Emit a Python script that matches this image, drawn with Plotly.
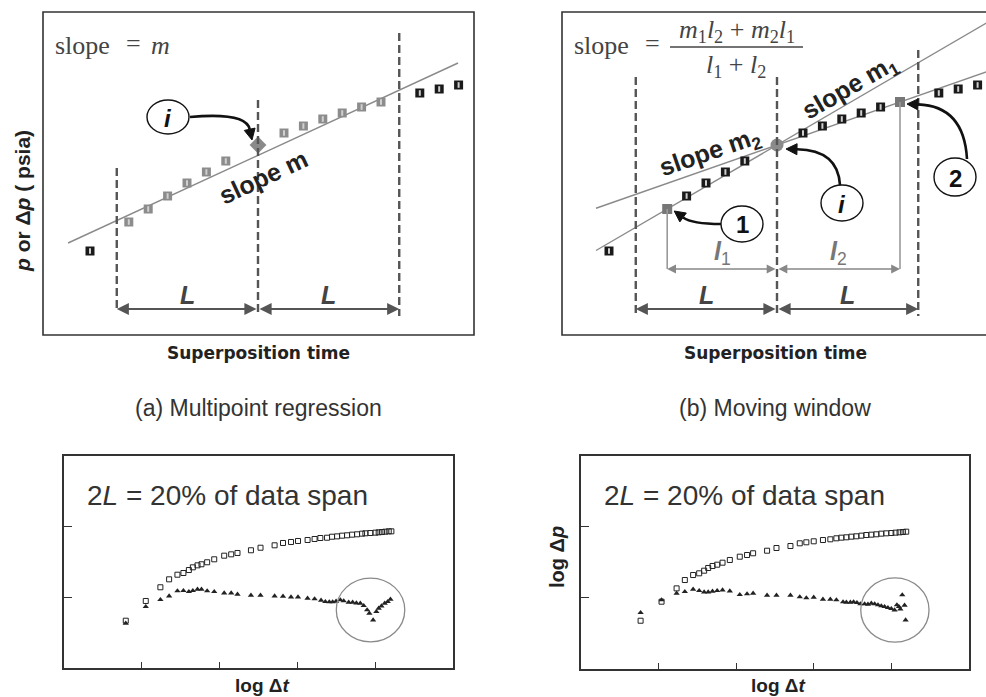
import numpy as np
import plotly.graph_objects as go

# ---------------- panels (a) and (b): superposition-time plots ----------------
sup_time = [0, 2, 3, 4, 5, 6, 7, 10, 11, 12, 13, 14, 15, 17, 18, 19]
sup_pressure = [8.4, 11.3, 12.6, 13.9, 15.2, 16.3, 17.4, 20.2, 20.9, 21.6, 22.2, 22.8, 23.3, 24.2, 24.6, 25.0]
point_i = [8.66, 19.0]          # evaluation point i
half_window = 7.28               # L
fit_time = [-1.13, 18.97]        # regression line over the 2L window
fit_pressure = [9.2, 27.2]
moving_time = [0, 4, 5, 6, 7, 10, 11, 12, 13, 14, 17, 18, 19]
point_1 = [3, 12.6]
point_2 = [15, 23.3]

# ---------------- panels (c) and (d): log-log diagnostics (log10 units) ----------------
c_sq_x = [0.794, 1.051, 1.239, 1.351, 1.458, 1.535, 1.605, 1.656, 1.716, 1.767, 1.840, 1.931, 2.059, 2.149,
          2.230, 2.403, 2.526, 2.707, 2.815, 2.918, 3.008, 3.131, 3.221, 3.295, 3.381, 3.445, 3.510, 3.574,
          3.638, 3.703, 3.767, 3.831, 3.874, 3.938, 4.003, 4.045, 4.088, 4.131, 4.174, 4.208]
c_sq_y = [0.666, 0.944, 1.137, 1.249, 1.314, 1.338, 1.380, 1.418, 1.446, 1.461, 1.489, 1.531, 1.582, 1.601,
          1.620, 1.658, 1.694, 1.728, 1.761, 1.775, 1.789, 1.803, 1.817, 1.831, 1.835, 1.849, 1.854, 1.864,
          1.869, 1.878, 1.883, 1.892, 1.897, 1.901, 1.906, 1.911, 1.915, 1.920, 1.925, 1.925]
c_tri_x = [0.794, 1.051, 1.239, 1.351, 1.458, 1.535, 1.605, 1.656, 1.716, 1.767, 1.840, 1.931, 2.059, 2.149,
           2.230, 2.403, 2.526, 2.707, 2.815, 2.918, 3.008, 3.131, 3.221, 3.304, 3.359, 3.410, 3.453, 3.497,
           3.552, 3.595, 3.659, 3.710, 3.758, 3.809, 3.852, 3.896, 3.925, 3.973, 4.015, 4.045, 4.080, 4.122,
           4.161, 4.196]
c_tri_y = [0.630, 0.863, 0.962, 1.014, 1.085, 1.089, 1.075, 1.089, 1.108, 1.108, 1.085, 1.075, 1.056, 1.056,
           1.038, 1.024, 1.024, 1.014, 1.010, 1.000, 1.000, 0.982, 0.972, 0.954, 0.934, 0.930, 0.930, 0.939,
           0.958, 0.944, 0.925, 0.925, 0.915, 0.911, 0.877, 0.817, 0.770, 0.676, 0.793, 0.841, 0.873, 0.911,
           0.934, 0.968]
d_sq_x = [0.768, 1.038, 1.232, 1.338, 1.445, 1.523, 1.587, 1.639, 1.695, 1.755, 1.824, 1.918, 2.046, 2.140,
          2.218, 2.398, 2.519, 2.699, 2.819, 2.904, 2.999, 3.118, 3.213, 3.291, 3.355, 3.420, 3.484, 3.548,
          3.613, 3.677, 3.741, 3.806, 3.870, 3.934, 3.999, 4.054, 4.105, 4.148, 4.191]
d_sq_y = [0.677, 0.944, 1.131, 1.248, 1.318, 1.342, 1.379, 1.417, 1.445, 1.463, 1.491, 1.529, 1.575, 1.599,
          1.623, 1.659, 1.697, 1.725, 1.763, 1.777, 1.791, 1.809, 1.819, 1.833, 1.842, 1.847, 1.856, 1.861,
          1.870, 1.879, 1.884, 1.889, 1.898, 1.903, 1.907, 1.912, 1.917, 1.921, 1.926]
d_tri_x = [0.768, 1.038, 1.232, 1.338, 1.445, 1.523, 1.587, 1.639, 1.695, 1.755, 1.824, 1.918, 2.046, 2.140,
           2.218, 2.398, 2.519, 2.699, 2.819, 2.904, 2.999, 3.118, 3.213, 3.291, 3.377, 3.420, 3.471, 3.513,
           3.556, 3.600, 3.655, 3.698, 3.741, 3.784, 3.827, 3.870, 3.912, 3.955, 3.999, 4.041, 4.071, 4.097,
           4.115, 4.140, 4.170, 4.183]
d_tri_y = [0.790, 0.968, 1.061, 1.085, 1.117, 1.099, 1.080, 1.080, 1.089, 1.099, 1.108, 1.094, 1.042, 1.052,
           1.061, 1.033, 1.033, 1.033, 1.010, 0.996, 1.005, 0.978, 0.978, 0.968, 0.940, 0.935, 0.935, 0.940,
           0.930, 0.912, 0.912, 0.907, 0.921, 0.912, 0.898, 0.884, 0.874, 0.860, 0.846, 0.827, 0.898, 0.874,
           0.841, 1.038, 0.893, 0.687]
c_ring = [3.94, 0.817]           # circled late-time region
d_ring = [4.045, 0.827]
log_ticks_x = [1, 2, 3, 4]
log_ticks_y = [1, 2]

# ---------------- page geometry (pixels) ----------------
W, H = 986, 697
TOP, BOTTOM = 12, 335
PX_T, PX_P = 19.4, 10.0
A_LEFT, A_RIGHT, A_ORIGIN = 43, 474, 90
B_LEFT, B_RIGHT, B_ORIGIN = 562, 986, 609
C_BOX = (64, 456, 453, 668)
D_BOX = (581, 456, 969, 669)

FONT = "Liberation Sans"
SERIF = "Liberation Serif"


def paper(x, y):
    return x / W, 1 - y / H


def pix_a(t, p):
    return A_ORIGIN + PX_T * t, BOTTOM - PX_P * p


def pix_b(t, p):
    return B_ORIGIN + PX_T * t, BOTTOM - PX_P * p


def p_at(y):
    return (BOTTOM - y) / PX_P


pressure_of = dict(zip(sup_time, sup_pressure))
shapes, notes = [], []


def text(x, y, s, size, color="#333", bold=False, italic=False, angle=0, family=FONT, xanchor="center"):
    if italic:
        s = f"<i>{s}</i>"
    if bold:
        s = f"<b>{s}</b>"
    X, Y = paper(x, y)
    notes.append(dict(x=X, y=Y, xref="paper", yref="paper", text=s, showarrow=False, textangle=angle,
                      xanchor=xanchor, yanchor="middle", font=dict(family=family, size=size, color=color)))


def ellipse(cx, cy, rx, ry, color="#111", width=1.4):
    x0, y0 = paper(cx - rx, cy - ry)
    x1, y1 = paper(cx + rx, cy + ry)
    shapes.append(dict(type="circle", xref="paper", yref="paper", x0=x0, x1=x1, y0=y1, y1=y0,
                       line=dict(color=color, width=width), fillcolor="white", layer="above"))


def curved_arrow(start, ctrl, tip, color="#111", width=2.6, head=11, half=5.5):
    d = np.array(tip, float) - np.array(ctrl, float)
    d /= np.linalg.norm(d)
    base = np.array(tip, float) - d * head
    perp = np.array([-d[1], d[0]])
    b1, b2 = base + perp * half, base - perp * half
    s = paper(*start); c = paper(*ctrl); e = paper(*base)
    shapes.append(dict(type="path", xref="paper", yref="paper",
                       path=f"M {s[0]},{s[1]} Q {c[0]},{c[1]} {e[0]},{e[1]}",
                       line=dict(color=color, width=width), layer="above"))
    t_ = paper(*tip); p1 = paper(*b1); p2 = paper(*b2)
    shapes.append(dict(type="path", xref="paper", yref="paper",
                       path=f"M {t_[0]},{t_[1]} L {p1[0]},{p1[1]} L {p2[0]},{p2[1]} Z",
                       fillcolor=color, line=dict(color=color, width=1), layer="above"))


def span_arrow(xref, yref, t0, t1, p, color, width):
    notes.append(dict(x=t1, y=p, ax=t0, ay=p, xref=xref, yref=yref, axref=xref, ayref=yref, text="",
                      showarrow=True, arrowhead=2, arrowside="end+start", arrowsize=1.1,
                      arrowwidth=width, arrowcolor=color, standoff=0, startstandoff=0,
                      font=dict(size=10)))


def vdash(xref, yref, t, p0, p1):
    shapes.append(dict(type="line", xref=xref, yref=yref, x0=t, x1=t, y0=p0, y1=p1,
                       line=dict(color="#555", width=2.4, dash="8px,4px")))


fig = go.Figure()


def squares(xs, ys, xa, ya, outer, inner):
    fig.add_trace(go.Scatter(x=xs, y=ys, xaxis=xa, yaxis=ya, mode="markers", hoverinfo="skip",
                             marker=dict(symbol="square", size=9, color=outer, line=dict(width=0))))
    fig.add_trace(go.Scatter(x=xs, y=ys, xaxis=xa, yaxis=ya, mode="markers", hoverinfo="skip",
                             marker=dict(symbol="line-ns", size=4, line=dict(color=inner, width=2))))


# ---------- panel (a): multipoint regression ----------
win_lo, win_hi = point_i[0] - half_window, point_i[0] + half_window
in_win = [(t, p) for t, p in zip(sup_time, sup_pressure) if win_lo <= t <= win_hi]
out_win = [(t, p) for t, p in zip(sup_time, sup_pressure) if not (win_lo <= t <= win_hi)]
fig.add_trace(go.Scatter(x=fit_time, y=fit_pressure, xaxis="x", yaxis="y", mode="lines",
                         line=dict(color="#8a8a8a", width=1.4), hoverinfo="skip"))
squares([t for t, _ in in_win], [p for _, p in in_win], "x", "y", "#8c8c8c", "#d0d0d0")
squares([t for t, _ in out_win], [p for _, p in out_win], "x", "y", "#1a1a1a", "#cfcfcf")
fig.add_trace(go.Scatter(x=[point_i[0]], y=[point_i[1]], xaxis="x", yaxis="y", mode="markers",
                         marker=dict(symbol="diamond", size=13, color="#8a8a8a"), hoverinfo="skip"))

vdash("x", "y", win_lo, p_at(168), p_at(312))
vdash("x", "y", point_i[0], p_at(100), p_at(316))
vdash("x", "y", win_hi, p_at(33), p_at(316))
span_arrow("x", "y", point_i[0], win_lo, p_at(309), "#555", 2.2)
span_arrow("x", "y", point_i[0], win_hi, p_at(309), "#555", 2.2)
for t in [(win_lo + point_i[0]) / 2, (point_i[0] + win_hi) / 2]:
    text(pix_a(t, 0)[0], 295, "L", 25, "#444", bold=True, italic=True)

ix, iy = pix_a(*point_i)
ellipse(168, 117, 21, 17)
text(168, 118, "i", 24, "#111", bold=True, italic=True)
curved_arrow((190, 117), (246, 112), (ix - 6, iy - 5))
text(pix_a(8.6, 0)[0] + 6, 177, "slope m", 25, "#222", bold=True, angle=-25)
text(53, 45, "slope", 26, "#444", family=SERIF, xanchor="left")
text(133, 44, "=", 26, "#444", family=SERIF)
text(160, 45, "<i>m</i>", 26, "#444", family=SERIF)
text(23, 201, "<i>p</i> or Δ<i>p</i> ( psia)", 21, "#222", bold=True, angle=-90)
text(258, 353, "Superposition time", 17, "#222", bold=True, family="DejaVu Sans")
text(258, 408, "(a) Multipoint regression", 23, "#333")

# ---------- panel (b): moving window ----------
t_line = np.array([-0.67, 21.0])
s1 = (point_i[1] - point_1[1]) / (point_i[0] - point_1[0])
s2 = (point_2[1] - point_i[1]) / (point_2[0] - point_i[0])
for s in (s1, s2):
    fig.add_trace(go.Scatter(x=t_line, y=point_i[1] + s * (t_line - point_i[0]), xaxis="x2", yaxis="y2",
                             mode="lines", line=dict(color="#8a8a8a", width=1.4), hoverinfo="skip"))
squares(moving_time, [pressure_of[t] for t in moving_time], "x2", "y2", "#1a1a1a", "#cfcfcf")
fig.add_trace(go.Scatter(x=[point_1[0], point_2[0]], y=[point_1[1], point_2[1]], xaxis="x2", yaxis="y2",
                         mode="markers", marker=dict(symbol="square", size=10, color="#777"), hoverinfo="skip"))
fig.add_trace(go.Scatter(x=[point_i[0]], y=[point_i[1]], xaxis="x2", yaxis="y2", mode="markers",
                         marker=dict(symbol="circle", size=13, color="#8a8a8a"), hoverinfo="skip"))

vdash("x2", "y2", win_lo, p_at(77), p_at(314))
vdash("x2", "y2", point_i[0], p_at(77), p_at(316))
vdash("x2", "y2", win_hi, p_at(50), p_at(316))
for pt in (point_1, point_2):
    shapes.append(dict(type="line", xref="x2", yref="y2", x0=pt[0], x1=pt[0], y0=pt[1], y1=p_at(269),
                       line=dict(color="#9a9a9a", width=1.6)))
span_arrow("x2", "y2", point_i[0], point_1[0], p_at(269), "#888", 1.6)
span_arrow("x2", "y2", point_i[0], point_2[0], p_at(269), "#888", 1.6)
span_arrow("x2", "y2", point_i[0], win_lo, p_at(309), "#555", 2.2)
span_arrow("x2", "y2", point_i[0], win_hi, p_at(309), "#555", 2.2)
for t in [(win_lo + point_i[0]) / 2, (point_i[0] + win_hi) / 2]:
    text(pix_b(t, 0)[0], 295, "L", 25, "#444", bold=True, italic=True)
text(pix_b((point_1[0] + point_i[0]) / 2, 0)[0], 253, "<b><i>l</i></b><sub>1</sub>", 25, "#777")
text(pix_b((point_i[0] + point_2[0]) / 2, 0)[0], 253, "<b><i>l</i></b><sub>2</sub>", 25, "#777")

bix, biy = pix_b(*point_i)
b1x, b1y = pix_b(*point_1)
b2x, b2y = pix_b(*point_2)
ellipse(742, 224, 21, 18)
text(742, 225, "1", 24, "#111", bold=True)
curved_arrow((721, 224), (692, 224), (b1x + 7, b1y + 2))
ellipse(842, 203, 21, 18)
text(842, 204, "i", 24, "#111", bold=True, italic=True)
curved_arrow((840, 185), (838, 150), (bix + 9, biy + 4))
ellipse(955, 177, 21, 19)
text(955, 178, "2", 24, "#111", bold=True)
curved_arrow((967, 159), (964, 106), (b2x + 7, b2y + 2))
text(710, 153, "slope m<sub>2</sub>", 25, "#222", bold=True, angle=-19)
text(850, 88, "slope m<sub>1</sub>", 25, "#222", bold=True, angle=-30)

text(572, 45, "slope", 26, "#444", family=SERIF, xanchor="left")
text(652, 44, "=", 26, "#444", family=SERIF)
text(737, 31, "<i>m</i><sub>1</sub><i>l</i><sub>2</sub> + <i>m</i><sub>2</sub><i>l</i><sub>1</sub>", 26, "#444", family=SERIF)
text(736, 66, "<i>l</i><sub>1</sub> + <i>l</i><sub>2</sub>", 26, "#444", family=SERIF)
fx0, fy = paper(670, 47)
fx1, _ = paper(803, 47)
shapes.append(dict(type="line", xref="paper", yref="paper", x0=fx0, x1=fx1, y0=fy, y1=fy,
                   line=dict(color="#444", width=1.3)))
text(775, 353, "Superposition time", 17, "#222", bold=True, family="DejaVu Sans")
text(775, 408, "(b) Moving window", 23, "#333")

# frames of the two upper panels
ax0, ay0 = paper(A_LEFT, TOP)
ax1, ay1 = paper(A_RIGHT, BOTTOM)
shapes.append(dict(type="rect", xref="paper", yref="paper", x0=ax0, x1=ax1, y0=ay1, y1=ay0,
                   line=dict(color="#333", width=1.6), layer="above"))
bx0, by0 = paper(B_LEFT, TOP)
bx1, by1 = paper(B_RIGHT + 4, BOTTOM)
shapes.append(dict(type="path", xref="paper", yref="paper",
                   path=f"M {bx1},{by0} L {bx0},{by0} L {bx0},{by1} L {bx1},{by1}",
                   line=dict(color="#333", width=1.6), layer="above"))

# ---------- panels (c) and (d): log-log plots ----------
for xa, ya, sx, sy, tx, ty, ring, box in (("x3", "y3", c_sq_x, c_sq_y, c_tri_x, c_tri_y, c_ring, C_BOX),
                                          ("x4", "y4", d_sq_x, d_sq_y, d_tri_x, d_tri_y, d_ring, D_BOX)):
    fig.add_trace(go.Scatter(x=sx, y=sy, xaxis=xa, yaxis=ya, mode="markers", hoverinfo="skip",
                             marker=dict(symbol="square-open", size=5, color="#222", line=dict(width=1))))
    fig.add_trace(go.Scatter(x=tx, y=ty, xaxis=xa, yaxis=ya, mode="markers", hoverinfo="skip",
                             marker=dict(symbol="triangle-up", size=5.5, color="#222")))
    shapes.append(dict(type="circle", xref=xa, yref=ya, x0=ring[0] - 0.44, x1=ring[0] + 0.44,
                       y0=ring[1] - 0.45, y1=ring[1] + 0.45, line=dict(color="#8a8a8a", width=1.3)))
    text(box[0] + 21, 495, "2<i>L</i> = 20% of data span", 28, "#333", xanchor="left")
    text((box[0] + box[2]) / 2 + 3, 685, "log Δ<i>t</i>", 19, "#222", bold=True)
text(557, 557, "log Δ<i>p</i>", 20, "#222", bold=True, angle=-90)


def log_axis(dom, rng, ticks, tlen):
    return dict(domain=dom, range=rng, showgrid=False, zeroline=False, showticklabels=False,
                ticks="inside", ticklen=tlen, tickwidth=1.3, tickcolor="#333", tickvals=ticks,
                showline=True, mirror=True, linecolor="#333", linewidth=1.6, fixedrange=True)


def box_domains(box):
    l, t, r, b = box
    return [l / W, r / W], [1 - b / H, 1 - t / H]


hidden = dict(visible=False, showgrid=False, zeroline=False, fixedrange=True)
cxd, cyd = box_domains(C_BOX)
dxd, dyd = box_domains(D_BOX)
fig.update_layout(
    width=W, height=H, margin=dict(l=0, r=0, t=0, b=0), showlegend=False,
    paper_bgcolor="white", plot_bgcolor="rgba(0,0,0,0)",
    xaxis=dict(hidden, domain=[A_LEFT / W, A_RIGHT / W],
               range=[(A_LEFT - A_ORIGIN) / PX_T, (A_RIGHT - A_ORIGIN) / PX_T]),
    yaxis=dict(hidden, domain=[1 - BOTTOM / H, 1 - TOP / H], range=[0, (BOTTOM - TOP) / PX_P]),
    xaxis2=dict(hidden, domain=[B_LEFT / W, 1.0], anchor="y2",
                range=[(B_LEFT - B_ORIGIN) / PX_T, (W - B_ORIGIN) / PX_T]),
    yaxis2=dict(hidden, domain=[1 - BOTTOM / H, 1 - TOP / H], anchor="x2", range=[0, (BOTTOM - TOP) / PX_P]),
    xaxis3=dict(log_axis(cxd, [0, 5], log_ticks_x, 6), anchor="y3"),
    yaxis3=dict(log_axis(cyd, [0, (C_BOX[3] - C_BOX[1]) / 71.0], log_ticks_y, 8), anchor="x3"),
    xaxis4=dict(log_axis(dxd, [0, 5], log_ticks_x, 6), anchor="y4"),
    yaxis4=dict(log_axis(dyd, [0, (D_BOX[3] - D_BOX[1]) / 71.3], log_ticks_y, 8), anchor="x4"),
    shapes=shapes, annotations=notes,
)
fig.write_html("out.html")
